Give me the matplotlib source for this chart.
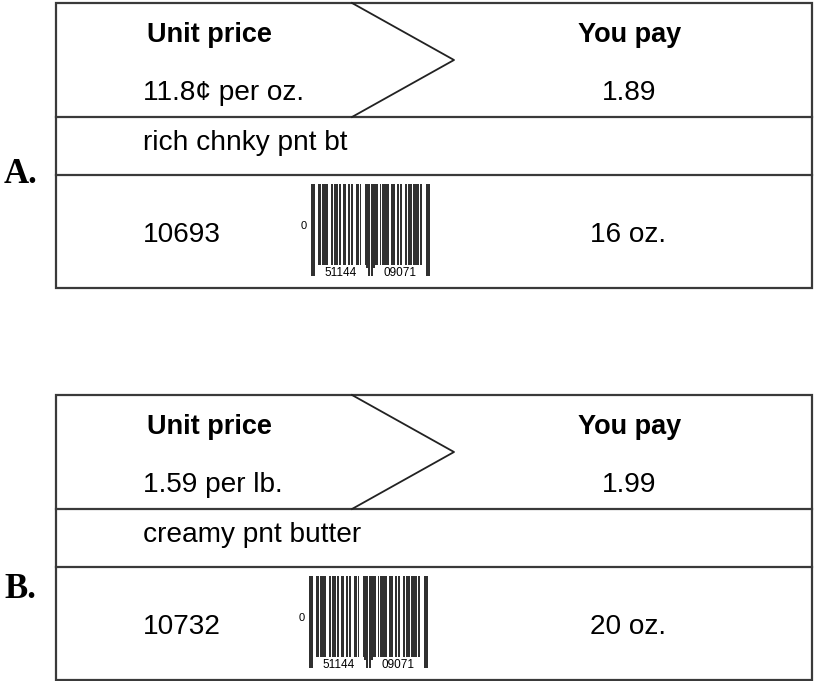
import matplotlib.pyplot as plt
from matplotlib.patches import Rectangle

# Label contents
letters = ["A.", "B."]
unit_prices = ["11.8¢ per oz.", "1.59 per lb."]
you_pay = ["1.89", "1.99"]
descriptions = ["rich chnky pnt bt", "creamy pnt butter"]
item_codes = ["10693", "10732"]
sizes = ["16 oz.", "20 oz."]
upc_digits = "051144090716"

# UPC-A left-hand codes (right-hand ones are the inverse)
upc_left = ["0001101", "0011001", "0010011", "0111101", "0100011",
            "0110001", "0101111", "0111011", "0110111", "0001011"]

W, H = 817, 681
fig = plt.figure(figsize=(W / 100, H / 100), dpi=100)
ax = fig.add_axes([0, 0, 1, 1])
ax.set_xlim(0, W)
ax.set_ylim(H, 0)
ax.axis("off")

sans = "Liberation Sans"
lc = "#3a3a3a"
lw = 1.6

# module string of the barcode
modules = "101"
for d in upc_digits[:6]:
    modules += upc_left[int(d)]
modules += "01010"
for d in upc_digits[6:]:
    modules += "".join("1" if c == "0" else "0" for c in upc_left[int(d)])
modules += "101"
guards = set(range(0, 3)) | set(range(45, 50)) | set(range(92, 95))

# merge runs of dark modules into single bars
runs = []
k = 0
while k < len(modules):
    if modules[k] == "1":
        j = k
        while j < len(modules) and modules[j] == "1":
            j += 1
        runs.append((k, j - k, any(m in guards for m in range(k, j))))
        k = j
    else:
        k += 1


def draw_label(top):
    left, right = 56, 812
    mid1, mid2, bottom = top + 114, top + 172, top + 285
    ax.add_patch(Rectangle((left, top), right - left, bottom - top,
                           fill=False, ec=lc, lw=lw))
    ax.plot([left, right], [mid1, mid1], color=lc, lw=lw)
    ax.plot([left, right], [mid2, mid2], color=lc, lw=lw)
    ax.plot([352, 454, 352], [top, (top + mid1) / 2, mid1], color="#222", lw=1.3)
    return mid1, mid2


for i in range(2):
    top = 3 if i == 0 else 395
    mid1, mid2 = draw_label(top)
    fs = 20.2
    fb = 19.5
    ax.text(147, top + 39, "Unit price", fontsize=fb, fontweight="bold",
            family=sans, ha="left", va="baseline")
    ax.text(143, top + 97, unit_prices[i], fontsize=fs, family=sans,
            ha="left", va="baseline")
    ax.text(630, top + 39, "You pay", fontsize=fb, fontweight="bold",
            family=sans, ha="center", va="baseline")
    ax.text(629, top + 97, you_pay[i], fontsize=fs, family=sans,
            ha="center", va="baseline")
    ax.text(143, top + 147, descriptions[i], fontsize=fs, family=sans,
            ha="left", va="baseline")
    ax.text(143, top + 239, item_codes[i], fontsize=fs, family=sans,
            ha="left", va="baseline")
    ax.text(628, top + 239, sizes[i], fontsize=fs, family=sans,
            ha="center", va="baseline")
    ax.text(4, top + (180 if i == 0 else 203), letters[i], fontsize=25,
            fontweight="bold", family="Liberation Serif", ha="left",
            va="baseline")

    # barcode
    bx = 311 if i == 0 else 309
    by0, by1 = mid2 + 9, mid2 + 93
    mw = 119 / len(modules)
    for start, n, g in runs:
        ext = 8 if g else 0
        ax.bar(bx + start * mw - 0.35, by1 + ext - by0, bottom=by0,
               width=n * mw + 0.7, align="edge", color="#303030", lw=0)
    for a, b in [(3, 45), (50, 92)]:
        ax.add_patch(Rectangle((bx + a * mw + 1, by1 - 3), (b - a) * mw - 2, 14,
                               fc="white", ec="none"))
    ax.text(bx + 24 * mw, by1 + 5, upc_digits[1:6], fontsize=8.5, family=sans,
            ha="center", va="center")
    ax.text(bx + 71 * mw, by1 + 5, upc_digits[6:11], fontsize=8.5, family=sans,
            ha="center", va="center")
    ax.text(bx - 7, (by0 + by1) / 2, upc_digits[0], fontsize=8, family=sans,
            ha="center", va="center")

fig.savefig("out.png", dpi=100)
